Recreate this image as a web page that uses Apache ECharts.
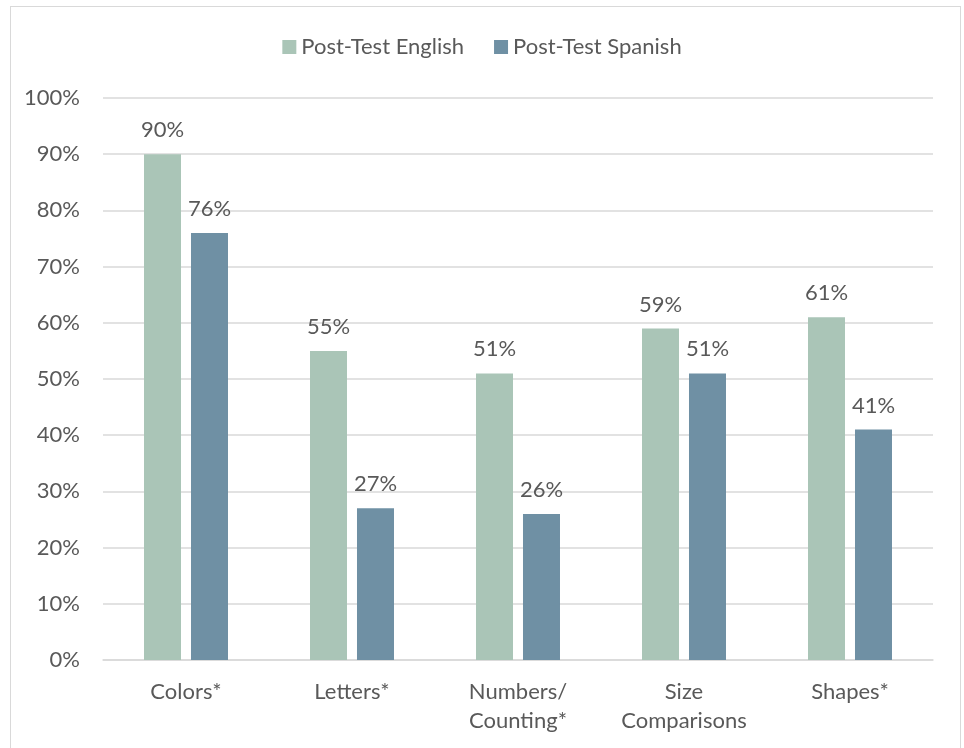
<!DOCTYPE html>
<html>
<head>
<meta charset="utf-8">
<style>
  html, body { margin: 0; padding: 0; background: #fff; }
  #frame { position: absolute; left: 10px; top: 6px; width: 951px; height: 760px; border: 1px solid #d9d9d9; box-sizing: border-box; }
  #chart { position: absolute; left: 0; top: 0; width: 964px; height: 748px; }
</style>
<script src="https://cdn.jsdelivr.net/npm/echarts@6/dist/echarts.min.js"></script>
</head>
<body>
<div id="frame"></div>
<div id="chart"></div>
<script>
// Post-test results by skill area
const categories = ['Colors*', 'Letters*', 'Numbers/\nCounting*', 'Size\nComparisons', 'Shapes*'];
const englishValues = [90, 55, 51, 59, 61];
const spanishValues = [76, 27, 26, 51, 41];
const seriesNames = ['Post-Test English', 'Post-Test Spanish'];

const FONT = 'Lato, "Open Sans", sans-serif';
const TEXT = '#595959';
const FS = 22;

const chart = echarts.init(document.getElementById('chart'));

const labelOpt = {
  show: true,
  position: 'top',
  distance: 13,
  formatter: p => p.value + '%',
  color: TEXT,
  fontSize: FS,
  fontFamily: FONT
};

chart.setOption({
  animation: false,
  color: ['#aac5b7', '#6f90a4'],
  legend: {
    top: 31,
    left: 'center',
    itemWidth: 14,
    itemHeight: 14,
    itemGap: 30,
    icon: 'rect',
    textStyle: { color: TEXT, fontSize: FS, fontFamily: FONT },
    data: seriesNames
  },
  grid: { left: 103, right: 31, top: 98, bottom: 88, containLabel: false },
  xAxis: {
    type: 'category',
    data: categories,
    axisLine: { lineStyle: { color: '#d9d9d9', width: 1.5 } },
    axisTick: { show: false },
    axisLabel: { color: TEXT, fontSize: FS, fontFamily: FONT, margin: 17, lineHeight: 29 }
  },
  yAxis: {
    type: 'value',
    min: 0,
    max: 100,
    interval: 10,
    axisLine: { show: false },
    axisTick: { show: false },
    axisLabel: { color: TEXT, fontSize: FS, fontFamily: FONT, margin: 23, formatter: v => v + '%' },
    splitLine: { lineStyle: { color: '#d9d9d9', width: 1.5 } }
  },
  series: [
    { name: seriesNames[0], type: 'bar', data: englishValues, barWidth: 37, barGap: '27%', label: labelOpt },
    { name: seriesNames[1], type: 'bar', data: spanishValues, barWidth: 37, barGap: '27%', label: labelOpt }
  ]
});
</script>
</body>
</html>
